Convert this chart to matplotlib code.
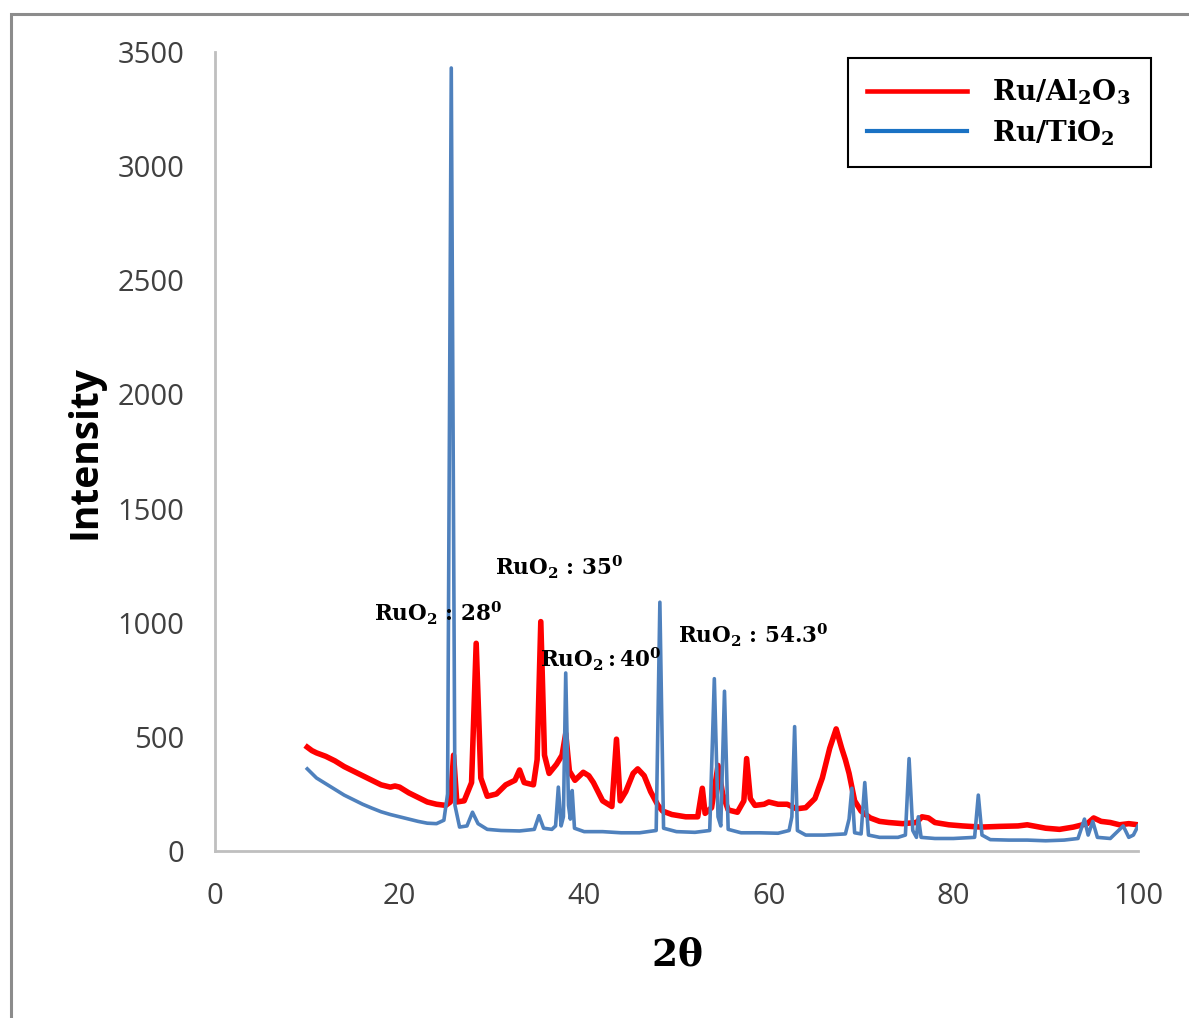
import matplotlib
matplotlib.use('Agg')
import matplotlib.pyplot as plt
from matplotlib.lines import Line2D
from matplotlib.patches import Rectangle

plt.rcParams['mathtext.fontset'] = 'dejavuserif'

# Ru/TiO2 pattern (2-theta, intensity)
tio2_x = [10, 11, 12, 13, 14, 15, 16, 17, 18, 19, 20, 21, 22, 23, 24, 24.8, 25.2, 25.6, 26.0, 26.5,
          27.3, 27.9, 28.5, 29.5, 31, 33, 34.6, 35.1, 35.6, 36.5, 36.9, 37.2, 37.5, 37.75, 38.0,
          38.3, 38.5, 38.7, 38.95, 40, 42, 44, 46, 47.8, 48.2, 48.6, 50, 52, 53.6, 54.1, 54.5,
          54.8, 55.2, 55.6, 57, 59, 61, 62.2, 62.5, 62.8, 63.1, 64, 66, 68.3, 68.7, 69.0, 69.3,
          70.0, 70.4, 70.8, 72, 74, 74.8, 75.2, 75.6, 76.0, 76.2, 76.5, 78, 80, 82.3, 82.7, 83.1,
          84, 86, 88, 90, 92, 93.5, 94.2, 94.6, 95.1, 95.6, 97, 98.4, 99, 99.5, 100]
tio2_y = [360, 320, 295, 270, 245, 225, 205, 188, 172, 160, 150, 140, 130, 122, 120, 135, 250, 3430, 200, 105,
          110, 170, 120, 95, 90, 88, 95, 155, 100, 95, 110, 280, 110, 150, 780,
          200, 140, 265, 100, 85, 85, 80, 80, 90, 1090, 100, 85, 82, 90, 755, 150,
          110, 700, 95, 80, 80, 78, 90, 150, 545, 90, 70, 70, 75, 140, 275, 80,
          75, 300, 70, 60, 60, 70, 405, 90, 60, 150, 60, 55, 55, 60, 245, 70,
          50, 48, 48, 45, 48, 55, 140, 70, 130, 60, 55, 110, 60, 70, 110]

# Ru/Al2O3 pattern
al2o3_x = [10, 10.5, 11, 12, 13, 14, 15, 16, 17, 18, 19, 19.5, 20, 21, 22, 23, 24, 25, 25.5, 25.85,
           26.2, 27, 27.8, 28.3, 28.8, 29.5, 30.5, 31.5, 32.5, 33.0, 33.5, 34.5, 34.9, 35.3, 35.7,
           36.2, 37.0, 37.6, 38.0, 38.4, 39.0, 39.9, 40.5, 41, 42, 43.0, 43.5, 43.9, 44.5, 45.3,
           45.8, 46.5, 47.2, 48, 48.5, 49.5, 51, 52.3, 52.8, 53.1, 53.8, 54.5, 55.0, 55.6, 56.6,
           57.3, 57.6, 58.0, 58.5, 59.5, 60, 61, 62, 63, 64, 65, 65.8, 66.6, 67.3, 67.9, 68.3,
           68.7, 69.3, 70, 71, 72, 73, 74.5, 76, 76.6, 77.3, 78, 79.5, 81, 83, 85, 87, 88, 90,
           91.5, 93, 94.5, 95.2, 96, 97, 98, 99, 100]
al2o3_y = [455, 440, 430, 415, 395, 370, 350, 330, 310, 290, 280, 285, 280, 255, 235, 215, 205, 200, 215, 420,
           215, 220, 300, 910, 320, 240, 250, 290, 310, 355, 300, 290, 400, 1005, 420,
           340, 380, 420, 515, 350, 310, 345, 330, 300, 220, 195, 490, 220, 260, 340,
           360, 330, 260, 200, 175, 160, 150, 150, 275, 165, 190, 375, 250, 180, 170,
           220, 405, 230, 200, 205, 215, 205, 205, 185, 190, 230, 320, 450, 535, 450, 400,
           340, 220, 175, 145, 130, 125, 120, 125, 150, 145, 125, 115, 110, 105, 108, 110, 115, 100,
           95, 105, 120, 145, 130, 125, 115, 120, 115]

x_ticks = [0, 20, 40, 60, 80, 100]
y_ticks = [0, 500, 1000, 1500, 2000, 2500, 3000, 3500]

peak_labels = [r'$\mathbf{RuO_2\,{:}\,28^0}$', r'$\mathbf{RuO_2\,{:}\,35^0}$',
               r'$\mathbf{RuO_2{:}40^0}$', r'$\mathbf{RuO_2\,{:}\,54.3^0}$']
peak_label_x = [17.2, 30.3, 35.2, 50.2]
peak_label_y = [1042, 1244, 841, 946]
series_names = [r'$\mathbf{Ru/Al_2O_3}$', r'$\mathbf{Ru/TiO_2}$']

red = '#ff0000'
blue = '#4f81bd'

fig = plt.figure(figsize=(11.89, 10.18), dpi=100)
ax = fig.add_axes([0.1808, 0.1640, 0.7763, 0.7849])

ax.plot(tio2_x, tio2_y, color=blue, lw=2.6, zorder=3)
ax.plot(al2o3_x, al2o3_y, color=red, lw=4, zorder=2)

ax.set_xlim(0, 100)
ax.set_ylim(0, 3500)
ax.set_xticks(x_ticks)
ax.set_yticks(y_ticks)
ax.tick_params(length=0, labelsize=21, labelcolor='#404040')
ax.tick_params(axis='y', pad=22)
ax.tick_params(axis='x', pad=22)
for lab in ax.get_xticklabels() + ax.get_yticklabels():
    lab.set_family('Open Sans')

for s in ['top', 'right']:
    ax.spines[s].set_visible(False)
for s in ['left', 'bottom']:
    ax.spines[s].set_color('#bfbfbf')
    ax.spines[s].set_linewidth(2)

for txt, tx, ty in zip(peak_labels, peak_label_x, peak_label_y):
    ax.text(tx, ty, txt, fontsize=15.5, va='center', ha='left')

fig.text(85 / 1189, 1 - 452 / 1018, 'Intensity', rotation=90, family='Open Sans',
         weight='bold', fontsize=28, ha='center', va='center')
fig.text(677 / 1189, 1 - 955 / 1018, r'$\mathbf{2\theta}$', fontsize=27,
         ha='center', va='center')

handles = [Line2D([], [], color=red, lw=3.3), Line2D([], [], color='#1a72c4', lw=3)]
leg = fig.legend(handles, series_names,
                 loc='upper left', bbox_to_anchor=(848 / 1189, 1 - 58 / 1018),
                 frameon=True, fancybox=False, edgecolor='black', framealpha=1,
                 fontsize=20, handlelength=3.6, handletextpad=0.9, labelspacing=0.4,
                 borderpad=0.7, borderaxespad=0)
leg.get_frame().set_linewidth(1.5)

# outer border of the original chart area
fig.patches.append(Rectangle((11 / 1189, -0.1), 2, 1.1 - 14 / 1018, transform=fig.transFigure,
                             fill=False, edgecolor='#8c8c8c', lw=2.2))

fig.savefig('out.png', dpi=100)
